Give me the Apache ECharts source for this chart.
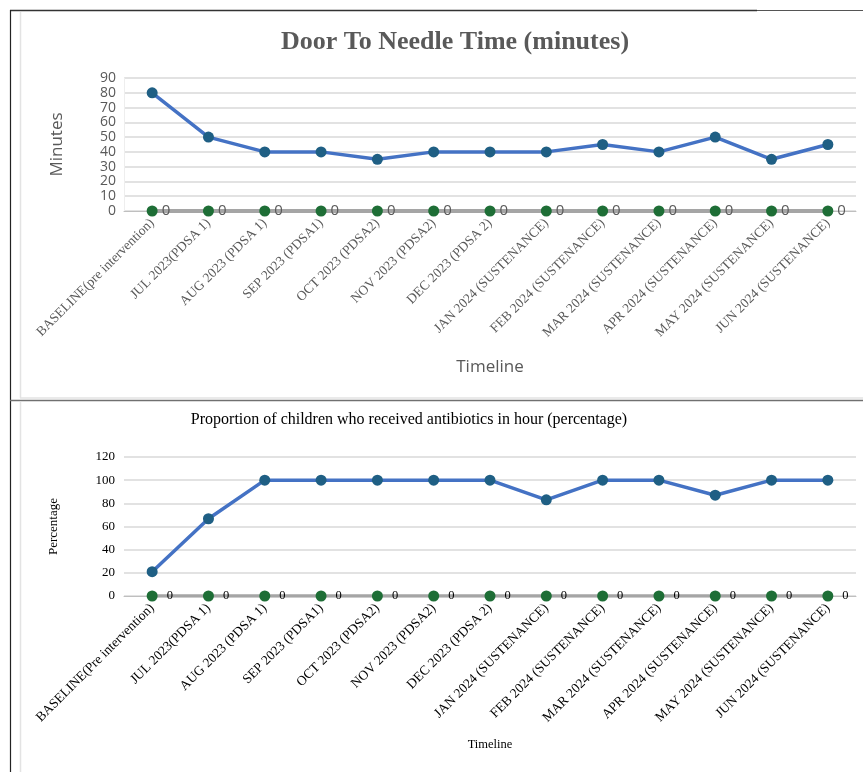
<!DOCTYPE html>
<html>
<head>
<meta charset="utf-8">
<script src="https://cdn.jsdelivr.net/npm/echarts@6/dist/echarts.min.js"></script>
<style>
html,body{margin:0;padding:0;background:#fff;}
#c{width:863px;height:772px;}
</style>
</head>
<body>
<div id="c"></div>
<script>
const categoriesTop = ["BASELINE(pre intervention)","JUL 2023(PDSA 1)","AUG 2023 (PDSA 1)","SEP 2023 (PDSA1)","OCT 2023 (PDSA2)","NOV 2023 (PDSA2)","DEC 2023 (PDSA 2)","JAN 2024 (SUSTENANCE)","FEB 2024 (SUSTENANCE)","MAR 2024 (SUSTENANCE)","APR 2024 (SUSTENANCE)","MAY 2024 (SUSTENANCE)","JUN 2024 (SUSTENANCE)"];
const categoriesBottom = ["BASELINE(Pre intervention)","JUL 2023(PDSA 1)","AUG 2023 (PDSA 1)","SEP 2023 (PDSA1)","OCT 2023 (PDSA2)","NOV 2023 (PDSA2)","DEC 2023 (PDSA 2)","JAN 2024 (SUSTENANCE)","FEB 2024 (SUSTENANCE)","MAR 2024 (SUSTENANCE)","APR 2024 (SUSTENANCE)","MAY 2024 (SUSTENANCE)","JUN 2024 (SUSTENANCE)"];
const doorToNeedle = [80,50,40,40,35,40,40,40,45,40,50,35,45];
const doorToNeedleZero = [0,0,0,0,0,0,0,0,0,0,0,0,0];
const antibioticsPct = [21,66.7,100,100,100,100,100,83,100,100,87,100,100];
const antibioticsZero = [0,0,0,0,0,0,0,0,0,0,0,0,0];
const titleTop = "Door To Needle Time (minutes)";
const titleBottom = "Proportion of children who received antibiotics in hour (percentage)";

const chart = echarts.init(document.getElementById('c'), null, {renderer:'canvas'});
const sans = "'Open Sans', 'Noto Sans', sans-serif";
const serif = "'Liberation Serif', 'DejaVu Serif', serif";
const grey = '#595959';

chart.setOption({
  animation:false,
  backgroundColor:'#fff',
  title:[
    {text:titleTop, left:450, top:24, textAlign:'center',
     textStyle:{fontFamily:serif, fontWeight:'bold', fontSize:26, color:grey}},
    {text:titleBottom, left:404, top:407, textAlign:'center',
     textStyle:{fontFamily:serif, fontWeight:'normal', fontSize:16, color:'#000'}}
  ],
  grid:[
    {left:124, top:78, width:732, height:133},
    {left:124, top:457, width:732, height:139}
  ],
  xAxis:[
    {type:'category', gridIndex:0, data:categoriesTop, boundaryGap:true,
     axisLine:{show:true, lineStyle:{color:'#bfbfbf', width:1}},
     axisTick:{show:false},
     axisLabel:{rotate:45, interval:0, margin:10, fontFamily:serif, fontSize:13.5, color:grey},
     name:'Timeline', nameLocation:'middle', nameGap:148,
     nameTextStyle:{fontFamily:sans, fontSize:17, color:grey}},
    {type:'category', gridIndex:1, data:categoriesBottom, boundaryGap:true,
     axisLine:{show:true, lineStyle:{color:'#bfbfbf', width:1}},
     axisTick:{show:false},
     axisLabel:{rotate:45, interval:0, margin:10, fontFamily:serif, fontSize:13.5, color:'#000'},
     name:'Timeline', nameLocation:'middle', nameGap:142,
     nameTextStyle:{fontFamily:serif, fontSize:12.5, color:'#000'}}
  ],
  yAxis:[
    {type:'value', gridIndex:0, min:0, max:90, interval:10,
     axisLine:{show:true, lineStyle:{color:'#eeeeee'}}, axisTick:{show:false},
     splitLine:{lineStyle:{color:'#d9d9d9', width:1.5}},
     axisLabel:{fontFamily:sans, fontSize:14, lineHeight:13, color:grey, margin:8,
       showMinLabel:true, showMaxLabel:true, hideOverlap:false},
     name:'Minutes', nameLocation:'middle', nameGap:58, nameRotate:90,
     nameTextStyle:{fontFamily:sans, fontSize:17, color:grey}},
    {type:'value', gridIndex:1, min:0, max:120, interval:20,
     axisLine:{show:false}, axisTick:{show:false},
     splitLine:{lineStyle:{color:'#d9d9d9', width:1.5}},
     axisLabel:{fontFamily:serif, fontSize:13, color:'#000', margin:9},
     name:'Percentage', nameLocation:'middle', nameGap:64, nameRotate:90,
     nameTextStyle:{fontFamily:serif, fontSize:13, color:'#000'}}
  ],
  series:[
    {type:'line', xAxisIndex:0, yAxisIndex:0, data:doorToNeedleZero, z:3,
     symbol:'circle', symbolSize:11,
     lineStyle:{color:'#a5a5a5', width:4},
     itemStyle:{color:'#1e6e36'},
     label:{show:true, position:'right', distance:4, fontFamily:sans, fontSize:15, color:grey}},
    {type:'line', xAxisIndex:0, yAxisIndex:0, data:doorToNeedle, z:4,
     symbol:'circle', symbolSize:11,
     lineStyle:{color:'#4472c4', width:3.5},
     itemStyle:{color:'#1f5f84'}},
    {type:'line', xAxisIndex:1, yAxisIndex:1, data:antibioticsZero, z:3,
     symbol:'circle', symbolSize:11,
     lineStyle:{color:'#a5a5a5', width:3.5},
     itemStyle:{color:'#1e6e36'},
     label:{show:true, position:'right', distance:9, fontFamily:serif, fontSize:12.5, color:'#000'}},
    {type:'line', xAxisIndex:1, yAxisIndex:1, data:antibioticsPct, z:4,
     symbol:'circle', symbolSize:11,
     lineStyle:{color:'#4472c4', width:3.5},
     itemStyle:{color:'#1f5f84'}}
  ],
  graphic:[
    {type:'line', shape:{x1:10, y1:10.5, x2:757, y2:10.5}, style:{stroke:'#333', lineWidth:1.5}, silent:true},
    {type:'line', shape:{x1:757, y1:10.5, x2:863, y2:10.5}, style:{stroke:'#555', lineWidth:1}, silent:true},
    {type:'line', shape:{x1:10.5, y1:10, x2:10.5, y2:772}, style:{stroke:'#222', lineWidth:1.2}, silent:true},
    {type:'line', shape:{x1:20.5, y1:12, x2:20.5, y2:398}, style:{stroke:'#e3e3e3', lineWidth:1.5}, silent:true},
    {type:'line', shape:{x1:20.5, y1:402, x2:20.5, y2:772}, style:{stroke:'#e3e3e3', lineWidth:1.5}, silent:true},
    {type:'line', shape:{x1:20, y1:398, x2:863, y2:398}, style:{stroke:'#e3e3e3', lineWidth:1.5}, silent:true},
    {type:'line', shape:{x1:10, y1:400.5, x2:863, y2:400.5}, style:{stroke:'#707070', lineWidth:1.5}, silent:true}
  ]
});
</script>
</body>
</html>
